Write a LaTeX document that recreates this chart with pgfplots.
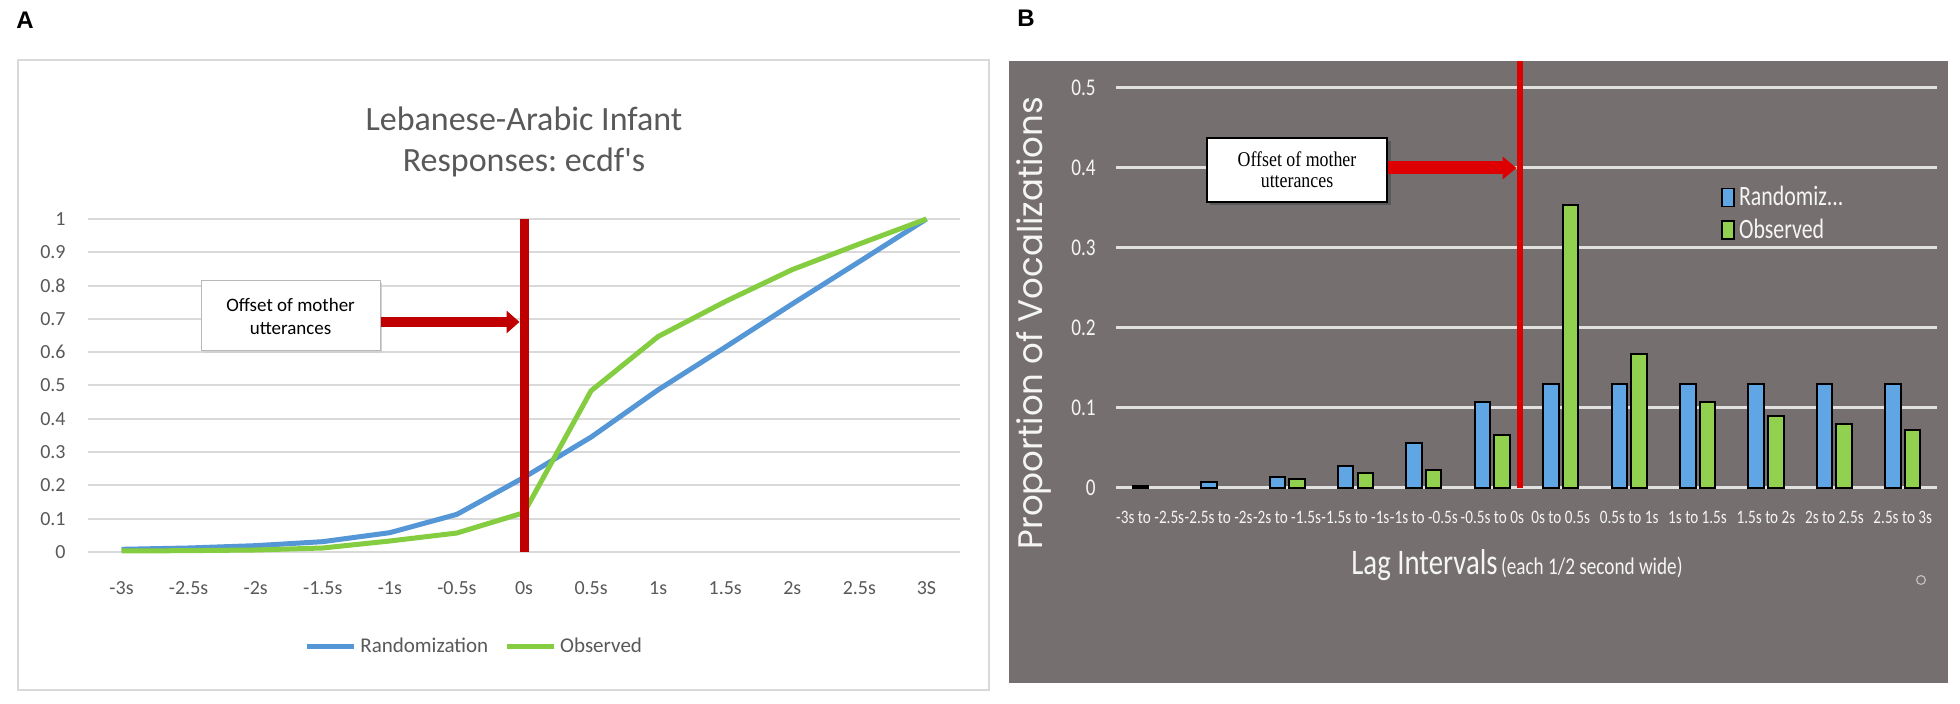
\documentclass[border=0pt]{standalone}
\usepackage{fontspec}
\setmainfont{Carlito}
\newfontfamily\condB[FakeStretch=0.80]{Carlito}
\newfontfamily\legB[FakeStretch=0.78]{Carlito}
\newfontfamily\popp{Poppins}
\newfontfamily\serifB[FakeStretch=0.85]{Liberation Serif}
\newfontfamily\arialB{Liberation Sans}
\usepackage{pgfplots}
\pgfplotsset{compat=1.18}
\usetikzlibrary{arrows.meta}
\definecolor{gridA}{RGB}{217,217,217}
\definecolor{txtA}{RGB}{89,89,89}
\definecolor{blueA}{RGB}{84,150,214}
\definecolor{greenA}{RGB}{132,204,64}
\definecolor{redA}{RGB}{192,0,0}
\definecolor{bgB}{RGB}{118,111,111}
\definecolor{gridB}{RGB}{225,225,225}
\definecolor{blueB}{RGB}{96,166,228}
\definecolor{greenB}{RGB}{146,208,80}
\definecolor{redB}{RGB}{222,0,0}
\definecolor{txtB}{RGB}{245,245,245}
\begin{document}
\begin{tikzpicture}
\useasboundingbox (0pt,0pt) rectangle (980pt,352pt);
\fill[white] (0pt,0pt) rectangle (980pt,352pt);
% ---------- Panel A ----------
\draw[gridA, line width=0.8pt] (9pt,7pt) rectangle (494.5pt,322pt);
\node[anchor=base west, inner sep=0pt, font=\arialB\bfseries\fontsize{12}{14}\selectfont] at (8pt,337.5pt) {A};
\node[anchor=base, inner sep=0pt, text=txtA, font=\fontsize{17}{20}\selectfont] at (262pt,286.5pt) {Lebanese-Arabic Infant};
\node[anchor=base, inner sep=0pt, text=txtA, font=\fontsize{17}{20}\selectfont] at (262pt,266pt) {Responses:\ ecdf\textquotesingle s};
\begin{axis}[at={(44pt,76pt)}, anchor=south west, scale only axis,
  width=436pt, height=166.5pt,
  xmin=-0.5, xmax=12.5, ymin=0, ymax=1, clip=false,
  axis line style={draw=none}, major tick length=0pt,
  ytick={0,0.1,0.2,0.3,0.4,0.5,0.6,0.7,0.8,0.9,1},
  yticklabels={0,0.1,0.2,0.3,0.4,0.5,0.6,0.7,0.8,0.9,1},
  ymajorgrids, grid style={gridA, line width=1pt},
  xtick={0,1,2,3,4,5,6,7,8,9,10,11,12},
  xticklabels={-3s,-2.5s,-2s,-1.5s,-1s,-0.5s,0s,0.5s,1s,1.5s,2s,2.5s,3S},
  ticklabel style={text=txtA, font=\fontsize{10}{12}\selectfont},
  xticklabel style={anchor=center, yshift=-18pt},
  yticklabel style={anchor=east, inner sep=0pt, xshift=-11pt},
  legend style={at={(0.444,-0.285)}, anchor=center, draw=none, fill=none,
    legend columns=2, font=\fontsize{10.5}{12}\selectfont, text=txtA,
    /tikz/every even column/.append style={column sep=6pt}},
  legend image code/.code={\draw[#1] (0pt,0pt) -- (23.5pt,0pt);},
]
\addplot[blueA, line width=2.5pt, line join=round] coordinates {
 (0,0.008) (1,0.012) (2,0.019) (3,0.031) (4,0.058) (5,0.113) (6,0.224)
 (7,0.345) (8,0.487) (9,0.615) (10,0.745) (11,0.872) (12,1.0)};
\addlegendentry{Randomization}
\addplot[greenA, line width=2.5pt, line join=round] coordinates {
 (0,0.003) (1,0.004) (2,0.006) (3,0.012) (4,0.033) (5,0.057) (6,0.118)
 (7,0.484) (8,0.647) (9,0.752) (10,0.848) (11,0.925) (12,1.0)};
\addlegendentry{Observed}
\draw[redA, line width=4.5pt] (axis cs:6,0) -- (axis cs:6,1);
\end{axis}
% annotation A
\fill[black!18] (101.5pt,175.5pt) rectangle (191pt,210.5pt);
\draw[black!28, fill=white, line width=0.5pt] (100.5pt,176.5pt) rectangle (190pt,211.5pt);
\node[align=center, inner sep=0pt, font=\fontsize{9.5}{11.5}\selectfont] at (145.3pt,194pt) {Offset of mother\\utterances};
\draw[redA, line width=5pt, -{Triangle[length=6.5pt,width=11pt]}] (190.5pt,191pt) -- (259.75pt,191pt);
% ---------- Panel B ----------
\fill[bgB] (504.5pt,10.5pt) rectangle (974pt,321.5pt);
\node[anchor=base west, inner sep=0pt, font=\arialB\bfseries\fontsize{12}{14}\selectfont] at (508.5pt,338.5pt) {B};
\begin{axis}[at={(558pt,108pt)}, anchor=south west, scale only axis,
  width=410.5pt, height=200pt,
  xmin=-0.5, xmax=11.5, ymin=0, ymax=0.5, clip=false,
  axis line style={draw=none}, major tick length=0pt,
  ytick={0,0.1,0.2,0.3,0.4,0.5}, yticklabels={0,0.1,0.2,0.3,0.4,0.5},
  ymajorgrids, grid style={gridB, line width=1.5pt},
  xtick={0,1,2,3,4,5,6,7,8,9,10,11},
  xticklabels={-3s to -2.5s,-2.5s to -2s,-2s to -1.5s,-1.5s to -1s,-1s to -0.5s,-0.5s to 0s,0s to 0.5s,0.5s to 1s,1s to 1.5s,1.5s to 2s,2s to 2.5s,2.5s to 3s},
  xticklabel style={anchor=center, yshift=-14.5pt, text=txtB, font=\condB\fontsize{9.5}{11}\selectfont},
  yticklabel style={anchor=east, inner sep=0pt, xshift=-10pt, text=txtB, font=\condB\fontsize{12}{14}\selectfont},
  legend style={at={(0.737,0.765)}, anchor=north west, draw=none, fill=none,
    font=\legB\fontsize{14}{16}\selectfont, text=txtB, cells={anchor=west},
    row sep=1pt, inner sep=0pt},
]
\addplot[ybar, bar width=7.75pt, bar shift=-4.9pt, fill=blueB, draw=black, line width=1pt,
  legend image code/.code={\draw[fill=blueB, draw=black, line width=0.8pt] (0pt,-4.5pt) rectangle (6pt,4.5pt);}]
 coordinates {(0,0.003) (1,0.0075) (2,0.014) (3,0.0275) (4,0.056) (5,0.108)
 (6,0.13) (7,0.13) (8,0.13) (9,0.13) (10,0.13) (11,0.13)};
\addlegendentry{Randomiz...}
\addplot[ybar, bar width=7.75pt, bar shift=4.9pt, fill=greenB, draw=black, line width=1pt,
  legend image code/.code={\draw[fill=greenB, draw=black, line width=0.8pt] (0pt,-4.5pt) rectangle (6pt,4.5pt);}]
 coordinates {(2,0.011) (3,0.019) (4,0.0225) (5,0.066)
 (6,0.354) (7,0.168) (8,0.107) (9,0.09) (10,0.08) (11,0.072)};
\addlegendentry{Observed}
\draw[redB, line width=3pt] (axis cs:5.4,0) -- (axis cs:5.4,0.534);
\end{axis}
% annotation B
\fill[black!65] (605pt,249.5pt) rectangle (695.5pt,281.5pt);
\draw[black, fill=white, line width=0.7pt] (603.5pt,251pt) rectangle (693.5pt,283pt);
\node[align=center, inner sep=0pt, font=\serifB\fontsize{10.5}{10.5}\selectfont] at (648.5pt,267pt) {Offset of mother\\utterances};
\draw[redB, line width=6.5pt, -{Triangle[length=7pt,width=11pt]}] (694pt,268pt) -- (758.3pt,268pt);
\node[anchor=base, inner sep=0pt, text=txtB] at (758.5pt,64.5pt)
  {{\condB\fontsize{18}{20}\selectfont Lag Intervals}\,{\condB\fontsize{12}{14}\selectfont (each 1/2 second wide)}};
\node[rotate=90, inner sep=0pt, text=txtB, font=\popp\fontsize{17}{20}\selectfont] at (517pt,190.5pt) {Proportion of Vocalizations};
\draw[black!25, line width=0.6pt] (960.5pt,62pt) circle (2.2pt);
\end{tikzpicture}
\end{document}
